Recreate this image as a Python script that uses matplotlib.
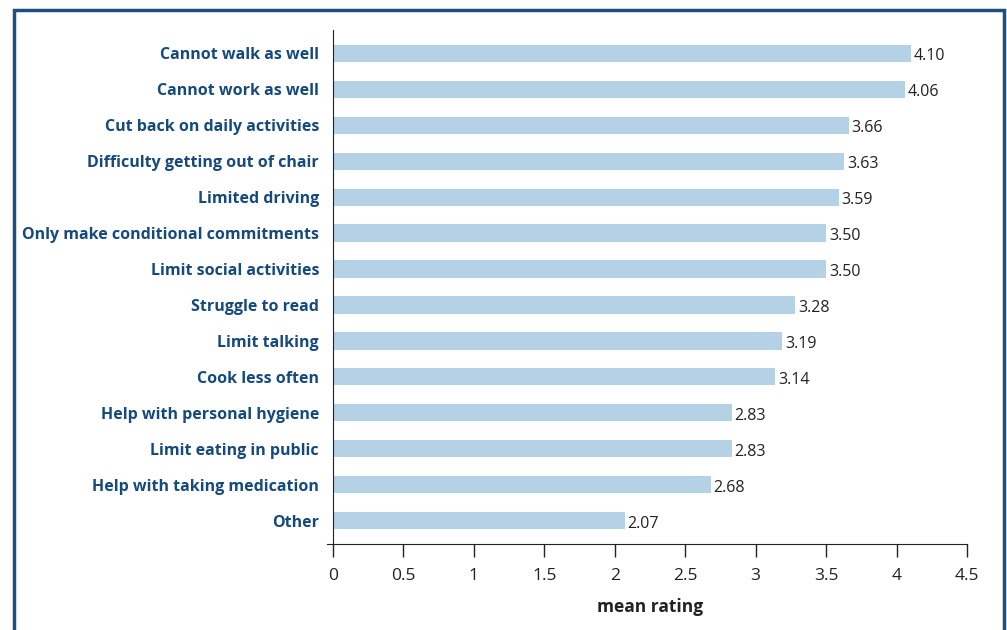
import matplotlib
matplotlib.use("Agg")
import matplotlib.pyplot as plt
from matplotlib.patches import Rectangle

categories = [
    "Cannot walk as well",
    "Cannot work as well",
    "Cut back on daily activities",
    "Difficulty getting out of chair",
    "Limited driving",
    "Only make conditional commitments",
    "Limit social activities",
    "Struggle to read",
    "Limit talking",
    "Cook less often",
    "Help with personal hygiene",
    "Limit eating in public",
    "Help with taking medication",
    "Other",
]
values = [4.10, 4.06, 3.66, 3.63, 3.59, 3.50, 3.50, 3.28, 3.19, 3.14, 2.83, 2.83, 2.68, 2.07]
xticks = [0, 0.5, 1, 1.5, 2, 2.5, 3, 3.5, 4, 4.5]
xticklabels = ["0", "0.5", "1", "1.5", "2", "2.5", "3", "3.5", "4", "4.5"]

W, H = 1007, 630
fig = plt.figure(figsize=(W / 100, H / 100), dpi=100)
plt.rcParams['font.family'] = ['Open Sans', 'DejaVu Sans']

label_color = "#164a7c"
bar_color = "#b5d1e6"
frame_color = "#1d4f80"

# figure border (bottom edge beyond the image)
fig.patches.append(Rectangle((13.5 / W, -0.05), (1004 - 13.5) / W, 1.05 - 10.5 / H,
                             transform=fig.transFigure, fill=False,
                             edgecolor=frame_color, linewidth=2.5))

ax = fig.add_axes([333 / W, 1 - 544 / H, (967 - 333) / W, (544 - 30) / H])
y = list(range(len(categories)))
ax.barh(y, values, height=0.48, color=bar_color)
for yi, v in zip(y, values):
    ax.text(v + 0.02, yi + 0.08, f"{v:.2f}", va="center", ha="left",
            fontsize=11.5, color="#222222")

ax.set_xlim(0, 4.5)
ax.set_ylim(13.65, -0.65)
ax.set_yticks(y)
ax.set_yticklabels(categories, fontsize=11.5, fontweight="bold", color=label_color)
for t in ax.get_yticklabels():
    t.set_y(t.get_position()[1])
ax.tick_params(axis="y", length=0, pad=10)
ax.set_xticks(xticks)
ax.set_xticklabels(xticklabels, fontsize=12.5, color="#222222")
ax.tick_params(axis="x", direction="out", length=9, width=1, pad=8, color="#222222")
for s in ["top", "right"]:
    ax.spines[s].set_visible(False)
ax.spines["left"].set_color("#222222")
ax.spines["bottom"].set_color("#222222")
ax.spines["bottom"].set_bounds(-0.04, 4.5)
ax.set_xlabel("mean rating", fontsize=12.5, fontweight="bold", color="#222222", labelpad=10)

fig.savefig("out.png", dpi=100)
